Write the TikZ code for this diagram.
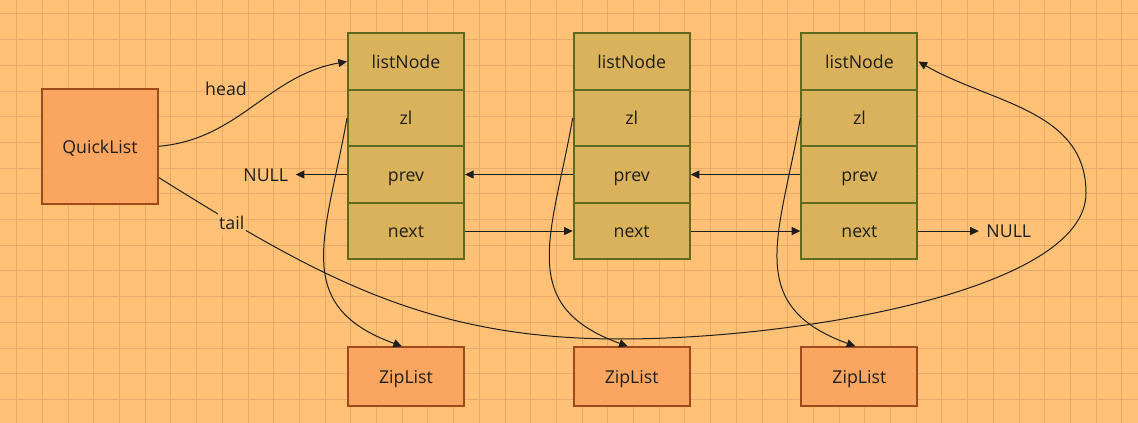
\documentclass[tikz,border=0pt]{standalone}
\usepackage{fontspec}
\setmainfont{Open Sans}
\usepackage{xcolor}
\usetikzlibrary{arrows.meta}

\definecolor{bgorange}{HTML}{FFC175}
\definecolor{gridtan}{HTML}{E6AA6B}
\definecolor{boxorange}{HTML}{FAA660}
\definecolor{boxbrown}{HTML}{9E4A1C}
\definecolor{cellgold}{HTML}{DAB25C}
\definecolor{cellolive}{HTML}{5F6A1E}
\definecolor{inkdark}{HTML}{1E1E1E}

\tikzset{
  every node/.style={font=\fontsize{13.3pt}{15pt}\selectfont, text=inkdark, text height=13.6pt, text depth=3.4pt},
  cellbox/.style={draw=cellolive, fill=cellgold, line width=1.5pt, minimum width=87pt, minimum height=42.4pt, inner sep=0pt},
  listbox/.style={draw=boxbrown, fill=boxorange, line width=1.5pt, minimum width=87pt, minimum height=43.8pt, inner sep=0pt},
  nulltext/.style={inner xsep=5.5pt, inner ysep=0pt},
  link/.style={draw=inkdark, line width=0.75pt, -{Triangle[length=6.5pt,width=6pt]}},
}

\begin{document}
\begin{tikzpicture}[x=0.75pt,y=0.75pt]
    \useasboundingbox (0,0) rectangle (1138,-423);
    \fill[bgorange] (0,0) rectangle (1138,-423);
    \begin{scope}[shift={(16.7,-14)}]
      \draw[step=19.275pt, gridtan, line width=0.75pt] (-16.7,14) grid (1121.3,-409);
    \end{scope}

    % quicklist
    \node[listbox, minimum width=86.6pt, minimum height=86.6pt] (ql) at (100,-146.3) {QuickList};

    % first node
    \node[cellbox] (ln1) at (406,-61.55) {listNode};
    \node[cellbox] (zl1) at (406,-118.05) {zl};
    \node[cellbox] (prev1) at (406,-174.55) {prev};
    \node[cellbox] (next1) at (406,-231.05) {next};
    \node[listbox] (zip1) at (406,-376.5) {ZipList};

    % second node
    \node[cellbox] (ln2) at (631.7,-61.55) {listNode};
    \node[cellbox] (zl2) at (631.7,-118.05) {zl};
    \node[cellbox] (prev2) at (631.7,-174.55) {prev};
    \node[cellbox] (next2) at (631.7,-231.05) {next};
    \node[listbox] (zip2) at (631.7,-376.5) {ZipList};

    % third node
    \node[cellbox] (ln3) at (859.4,-61.55) {listNode};
    \node[cellbox] (zl3) at (859.4,-118.05) {zl};
    \node[cellbox] (prev3) at (859.4,-174.55) {prev};
    \node[cellbox] (next3) at (859.4,-231.05) {next};
    \node[listbox] (zip3) at (859.4,-376.5) {ZipList};

    \node[nulltext] (nullL) at (265.8,-174.55) {NULL};
    \node[nulltext] (nullR) at (1008.8,-231.05) {NULL};

    % head and tail
    \coordinate (tailbottom) at (620,-339);
    \coordinate (tailturn) at (1086,-193);
    \draw[link] (ql.east) to[out=5,in=190] (ln1.west);
    \draw[link] (ql.-28) to[out=-32,in=180] (tailbottom) .. controls (800,-339) and (1086,-290) .. (tailturn) to[out=90,in=-30] (ln3.east);
    \node (headlbl) at (226,-88.3) {head};
    \node[fill=bgorange, inner sep=1pt] (taillbl) at (231.7,-222.3) {tail};

    % prev / next
    \draw[link] (prev1.west) -- (nullL.east);
    \draw[link] (prev2.west) -- (prev1.east);
    \draw[link] (prev3.west) -- (prev2.east);
    \draw[link] (next1.east) -- (next2.west);
    \draw[link] (next2.east) -- (next3.west);
    \draw[link] (next3.east) -- (nullR.west);

    % zl
    \draw[link] (zl1.west) to[out=-100,in=160,looseness=1.3] ([xshift=-3pt]zip1.north);
    \draw[link] (zl2.west) to[out=-100,in=160,looseness=1.3] ([xshift=-3pt]zip2.north);
    \draw[link] (zl3.west) to[out=-100,in=160,looseness=1.3] ([xshift=-3pt]zip3.north);
  \end{tikzpicture}
\end{document}
